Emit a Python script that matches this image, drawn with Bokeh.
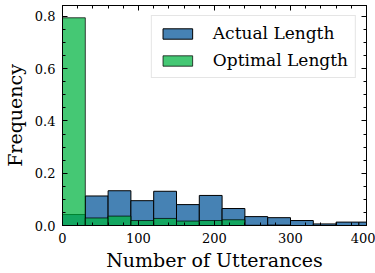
from bokeh.plotting import figure
from bokeh.models import LinearAxis, FixedTicker, Range1d, Legend, LegendItem
from bokeh.embed import file_html
from bokeh.resources import INLINE

# Histogram bins (width 30)
bin_left = [0, 30, 60, 90, 120, 150, 180, 210, 240, 270, 300, 330, 360, 390]
bin_right = [30, 60, 90, 120, 150, 180, 210, 240, 270, 300, 330, 360, 390, 420]
actual_freq = [0.042, 0.113, 0.133, 0.095, 0.131, 0.080, 0.115, 0.065, 0.034, 0.030, 0.019, 0.006, 0.013, 0.013]
optimal_freq = [0.795, 0.029, 0.036, 0.019, 0.027, 0.017, 0.019, 0.022, 0.001, 0.002, 0.0, 0.0, 0.0, 0.0]

x_ticks = [0, 100, 200, 300, 400]
x_tick_labels = ["0", "100", "200", "300", "400"]
y_ticks = [0.0, 0.2, 0.4, 0.6, 0.8]
y_tick_labels = ["0.0", "0.2", "0.4", "0.6", "0.8"]

FONT = "DejaVu Serif"

p = figure(width=375, height=273, output_backend="svg", toolbar_location=None,
           x_range=Range1d(0, 400), y_range=Range1d(0, 0.842),
           min_border_left=61, min_border_right=9, min_border_top=5, min_border_bottom=44)
p.xgrid.visible = False
p.ygrid.visible = False
p.outline_line_color = "black"
p.background_fill_color = "white"

xb = p.below[0]
yl = p.left[0]

r_act = p.quad(left=bin_left, right=bin_right, bottom=0, top=actual_freq,
               fill_color="#4682b4", line_color="black", line_width=1)
r_opt = p.quad(left=bin_left, right=bin_right, bottom=0, top=optimal_freq,
               fill_color="#00b340", fill_alpha=0.73, line_color="black", line_alpha=0.73, line_width=1)

x_minor = [v for v in range(0, 401, 20) if v % 100 != 0]
y_minor = [round(0.05 * i, 2) for i in range(0, 17) if i % 4 != 0]

above = LinearAxis()
right = LinearAxis()
p.add_layout(above, "above")
p.add_layout(right, "right")

for ax in [xb, above]:
    ax.ticker = FixedTicker(ticks=x_ticks, minor_ticks=x_minor)
for ax in [yl, right]:
    ax.ticker = FixedTicker(ticks=y_ticks, minor_ticks=y_minor)

for ax in [xb, yl, above, right]:
    ax.major_tick_in = 5
    ax.major_tick_out = 0
    ax.minor_tick_in = 3
    ax.minor_tick_out = 0
    ax.axis_line_color = "black"
    ax.major_tick_line_color = "black"
    ax.minor_tick_line_color = "black"
    ax.major_label_text_font = FONT
    ax.major_label_text_font_size = "13px"
    ax.major_label_text_color = "black"
    ax.axis_label_text_font = FONT
    ax.axis_label_text_font_size = "19px"
    ax.axis_label_text_font_style = "normal"
    ax.axis_label_text_color = "black"

above.major_label_overrides = {t: "" for t in x_ticks}
right.major_label_overrides = {t: "" for t in y_ticks}
for ax in [above, right]:
    ax.major_label_standoff = 0
    ax.major_label_text_font_size = "1px"

xb.major_label_overrides = {t: l for t, l in zip(x_ticks, x_tick_labels)}
yl.major_label_overrides = {t: l for t, l in zip(y_ticks, y_tick_labels)}
xb.axis_label = "Number of Utterances"
yl.axis_label = "Frequency"
xb.major_label_standoff = 7
xb.axis_label_standoff = 3
yl.major_label_standoff = 7
yl.axis_label_standoff = 6

legend = Legend(items=[LegendItem(label="Actual Length", renderers=[r_act]),
                       LegendItem(label="Optimal Length", renderers=[r_opt])],
                location="top_right", margin=10, padding=7, spacing=7,
                glyph_width=37, glyph_height=13, label_standoff=17,
                label_text_font=FONT, label_text_font_size="17px", label_text_color="black",
                border_line_color="#cccccc", border_line_width=1,
                background_fill_color="white", background_fill_alpha=0.8)
p.add_layout(legend)

open("out.html", "w").write(file_html(p, INLINE))
